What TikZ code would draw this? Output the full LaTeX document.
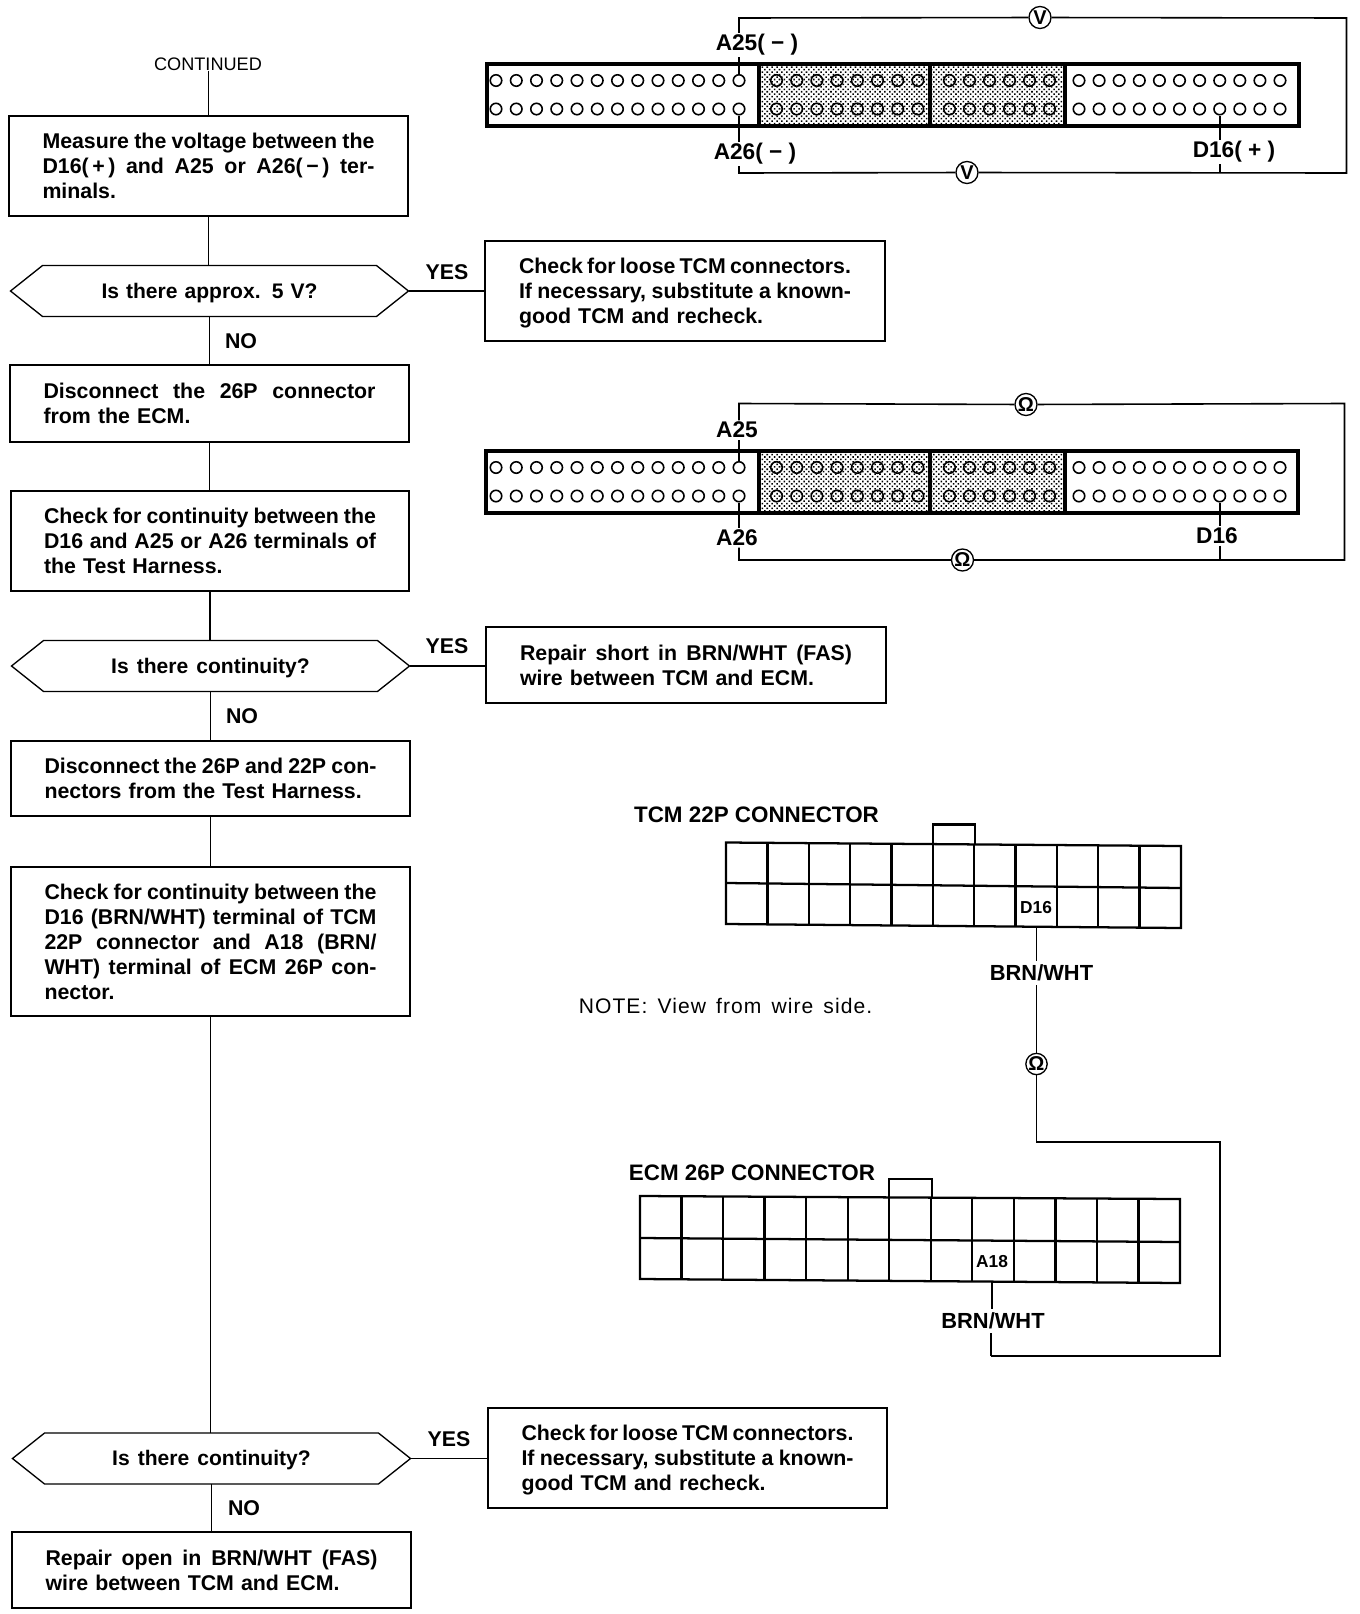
\documentclass[tikz,border=0pt]{standalone}
\usepackage{fontspec}
\setmainfont{Liberation Sans}
\newfontfamily\notef[LetterSpace=5]{Liberation Sans}
\usetikzlibrary{shapes.symbols,patterns.meta}
\newcommand\fl[1]{\makebox[249pt][s]{\spaceskip=.278em plus 2em minus .12em\relax\xspaceskip=\spaceskip #1}}
\newcommand\hx[2]{\raisebox{-2pt}[7pt][0pt]{\makebox[#1][s]{#2}}}
\newcommand\mkconn[6]{% prefix, xL, xR, yT, yB, rows
  \fill[pattern={Dots[radius=0.82pt,distance=2.6pt,angle=45]},pattern color=black] (759,#4) rectangle (1065,#5);
  \foreach \ry/\rn in {#6}{
    \foreach \i in {0,...,12}{\node[hole] (#1\rn a\i) at ({496+20.25*\i},\ry) {};}
    \foreach \i in {0,...,7}{\node[hole,fill=none] (#1\rn b\i) at ({776.5+20.2*\i},\ry) {};}
    \foreach \i in {0,...,5}{\node[hole,fill=none] (#1\rn c\i) at ({949.5+20*\i},\ry) {};}
    \foreach \i in {0,...,10}{\node[hole] (#1\rn d\i) at ({1079+20.1*\i},\ry) {};}
  }
  \draw[heavy] (#2,#4) rectangle (#3,#5);
  \draw[heavy] (759,#4)--(759,#5) (930,#4)--(930,#5) (1065,#4)--(1065,#5);
}
\tikzset{
  stepbox/.style={draw,rectangle,line width=1.1pt,align=left,text width=249pt,inner sep=0pt,outer sep=0pt,
    font=\fontsize{16}{18.75}\selectfont\bfseries},
  hexa/.style={draw,signal,signal to=west and east,signal pointer angle=77,line width=1pt,inner sep=0pt,outer sep=0pt,
    minimum width=298.5pt,minimum height=38.2pt,font=\fontsize{15.8}{18.75}\selectfont\bfseries},
  flow/.style={line width=1.1pt},
  wire/.style={line width=1.2pt},
  heavy/.style={line width=2.3pt},
  grid/.style={line width=1.7pt},
  hole/.style={draw,circle,fill=white,line width=1.2pt,minimum size=8.6pt,inner sep=0pt},
  meter/.style={draw,circle,fill=white,line width=1pt,inner sep=0pt,minimum size=16.5pt,font=\fontsize{15}{15}\selectfont\bfseries},
  lbl/.style={inner sep=1pt,font=\fontsize{16}{16}\selectfont\bfseries},
  plbl/.style={inner sep=1pt,font=\fontsize{17}{17}\selectfont\bfseries},
  tlbl/.style={inner sep=3pt,font=\fontsize{16.4}{17}\selectfont\bfseries},
  cell/.style={inner sep=0pt,font=\fontsize{13}{13}\selectfont\bfseries},
}
\begin{document}
\begin{tikzpicture}[x=0.75pt,y=-0.75pt]
\useasboundingbox (0,0) rectangle (1360,1614);
\fill[white] (0,0) rectangle (1360,1614);

% ---------- flow, left column
\node[inner sep=0pt,font=\fontsize{13.6}{14}\selectfont] (cont) at (208,64) {CONTINUED};
\node[stepbox,minimum width=399*.75pt,minimum height=100*.75pt] (b1) at (208.5,166)
 {\fl{Measure the voltage between the}\\\fl{D16(\,+\,) and A25 or A26(\,−\,) ter-}\\minals.};
\node[hexa] (d1) at (209.5,291) {\hx{162pt}{Is there approx. 5 V?}};
\node[stepbox,minimum width=399*.75pt,minimum height=77*.75pt] (b2) at (209.5,403.5)
 {\fl{Disconnect the 26P connector}\\from the ECM.};
\node[stepbox,minimum width=398*.75pt,minimum height=100*.75pt] (b3) at (210,541)
 {\fl{Check for continuity between the}\\\fl{D16 and A25 or A26 terminals of}\\the Test Harness.};
\node[hexa] (d2) at (210.5,666) {\hx{149pt}{Is there continuity?}};
\node[stepbox,minimum width=399*.75pt,minimum height=75*.75pt] (b4) at (210.5,778.5)
 {\fl{Disconnect the 26P and 22P con-}\\nectors from the Test Harness.};
\node[stepbox,minimum width=399*.75pt,minimum height=149*.75pt] (b5) at (210.5,941.5)
 {\fl{Check for continuity between the}\\\fl{D16 (BRN/WHT) terminal of TCM}\\\fl{22P connector and A18 (BRN/}\\\fl{WHT) terminal of ECM 26P con-}\\nector.};
\node[hexa] (d3) at (211.5,1458.5) {\hx{149pt}{Is there continuity?}};
\node[stepbox,minimum width=399*.75pt,minimum height=76*.75pt] (b6) at (211.5,1570)
 {\fl{Repair open in BRN/WHT (FAS)}\\wire between TCM and ECM.};

% ---------- flow, yes boxes
\node[stepbox,minimum width=400*.75pt,minimum height=100*.75pt] (y1) at (685,291)
 {\rule{0pt}{14.5pt}\fl{Check for loose TCM connectors.}\\\fl{If necessary, substitute a known-}\\good TCM and recheck.};
\node[stepbox,minimum width=400*.75pt,minimum height=76*.75pt] (y2) at (686,665)
 {\fl{Repair short in BRN/WHT (FAS)}\\wire between TCM and ECM.};
\node[stepbox,minimum width=399*.75pt,minimum height=100*.75pt] (y3) at (687.5,1458)
 {\rule{0pt}{14.5pt}\fl{Check for loose TCM connectors.}\\\fl{If necessary, substitute a known-}\\good TCM and recheck.};

\node[lbl] (yes1) at (447,272) {YES};
\node[lbl] (yes2) at (447,646) {YES};
\node[lbl] (yes3) at (449,1439) {YES};
\node[lbl] (no1) at (241,341) {NO};
\node[lbl] (no2) at (242,716) {NO};
\node[lbl] (no3) at (244,1508) {NO};

\draw[line width=.7pt] (cont.south -| b1.north) -- (b1.north);
\draw[flow] (b1.south) -- (b1.south |- d1.north);
\draw[flow] (d1.south) -- (d1.south |- b2.north);
\draw[flow] (b2.south) -- (b2.south |- b3.north);
\draw[flow] (b3.south) -- (b3.south |- d2.north);
\draw[flow] (d2.south) -- (d2.south |- b4.north);
\draw[flow] (b4.south) -- (b4.south |- b5.north);
\draw[flow] (b5.south) -- (b5.south |- d3.north);
\draw[flow] (d3.south) -- (d3.south |- b6.north);
\draw[flow] (d1.east) -- (d1.east -| y1.west);
\draw[flow] (d2.east) -- (d2.east -| y2.west);
\draw[flow] (d3.east) -- (d3.east -| y3.west);

% ---------- top test connector
\mkconn{p}{487}{1299}{64}{126}{80.5/t,109/u}
\node[plbl] (pA25) at (757,45) {A25(\;−\;)};
\node[plbl] (pA26) at (755,154) {A26(\;−\;)};
\node[plbl] (pD16) at (1234,152) {D16(\;+\;)};
\node[meter] (pV1) at (1040,17.5) {V};
\node[meter] (pV2) at (967,172.5) {V};
\coordinate (pc1) at (739,18);
\coordinate (pc2) at (1346.5,18);
\coordinate (pc3) at (1346.5,173);
\coordinate (pc4) at (739,173);
\draw[wire] (pta12.north) -- (pta12.north |- pA25.south);
\draw[wire] (pc1 |- pA25.north) -- (pc1) -- (pV1) -- (pc2) -- (pc3) -- (pV2) -- (pc4) -- (pc4 |- pA26.south);
\draw[wire] (pua12.south) -- (pua12.south |- pA26.north);
\draw[wire] (pud7.south) -- (pud7.south |- pD16.north);
\draw[wire] (pud7.south |- pD16.south) -- (pud7.south |- pc4);

% ---------- middle test connector
\mkconn{q}{486}{1298}{451}{513}{467.5/t,496/u}
\node[plbl] (qA25) at (737,430) {A25};
\node[plbl] (qA26) at (737,538) {A26};
\node[plbl] (qD16) at (1217,536) {D16};
\node[meter] (qO1) at (1026,404.5) {Ω};
\node[meter] (qO2) at (962.5,560) {Ω};
\coordinate (qc1) at (739,403.5);
\coordinate (qc2) at (1344.5,403.5);
\coordinate (qc3) at (1344.5,560);
\coordinate (qc4) at (739,560);
\draw[wire] (qta12.north) -- (qta12.north |- qA25.south);
\draw[wire] (qc1 |- qA25.north) -- (qc1) -- (qO1) -- (qc2) -- (qc3) -- (qO2) -- (qc4) -- (qc4 |- qA26.south);
\draw[wire] (qua12.south) -- (qua12.south |- qA26.north);
\draw[wire] (qud7.south) -- (qud7.south |- qD16.north);
\draw[wire] (qud7.south |- qD16.south) -- (qud7.south |- qc4);

% ---------- TCM 22P connector
\node[tlbl,font=\fontsize{16.8}{17}\selectfont\bfseries] (tcmT) at (756.5,815) {TCM 22P CONNECTOR};
\draw[grid] (726,842.5) -- (1181,846) -- (1181,928) -- (726,924) -- cycle;
\draw[grid] (726,883) -- (1181,888);
\foreach \i in {1,...,10}{\draw[grid] ({726+41.36*\i},{842.5+3.5*\i/11}) -- ({726+41.36*\i},{924+4*\i/11});}
\draw[grid] (933,844) -- (933,824.5) -- (975,824.5) -- (975,845);
\node[cell] (tcmD) at (1036,908) {D16};
\coordinate (tcmW) at (1036.5,927);
\node[tlbl] (bw1) at (1041.5,973) {BRN/WHT};
\node[font=\fontsize{15.8}{17}\selectfont\notef,inner sep=0pt] (note) at (725.5,1006) {\makebox[220pt][s]{NOTE: View from wire side.}};
\node[meter,minimum size=16pt] (tO) at (1036.5,1064) {Ω};
\coordinate (w1) at (1036.5,1142);
\coordinate (w2) at (1220,1142);
\coordinate (w3) at (1220,1356);
\coordinate (w4) at (991,1356);
\draw[wire] (tcmW) -- (tcmW |- bw1.north);
\draw[wire] (tcmW |- bw1.south) -- (tO);
\draw[wire] (tO) -- (w1) -- (w2) -- (w3) -- (w4);

% ---------- ECM 26P connector
\node[tlbl,font=\fontsize{16.8}{17}\selectfont\bfseries] (ecmT) at (752,1173) {ECM 26P CONNECTOR};
\draw[grid] (640,1196) -- (1180,1199) -- (1180,1283) -- (640,1279) -- cycle;
\draw[grid] (640,1238) -- (1180,1242);
\foreach \i in {1,...,12}{\draw[grid] ({640+41.54*\i},{1196+3*\i/13}) -- ({640+41.54*\i},{1279+4*\i/13});}
\draw[grid] (889,1197) -- (889,1179) -- (932,1179) -- (932,1198);
\node[cell] (ecmD) at (992,1262) {A18};
\coordinate (ecmW) at (992,1281);
\node[tlbl] (bw2) at (993,1321) {BRN/WHT};
\draw[wire] (ecmW) -- (ecmW |- bw2.north);
\draw[wire] (w4) -- (w4 |- bw2.south);
\end{tikzpicture}
\end{document}
